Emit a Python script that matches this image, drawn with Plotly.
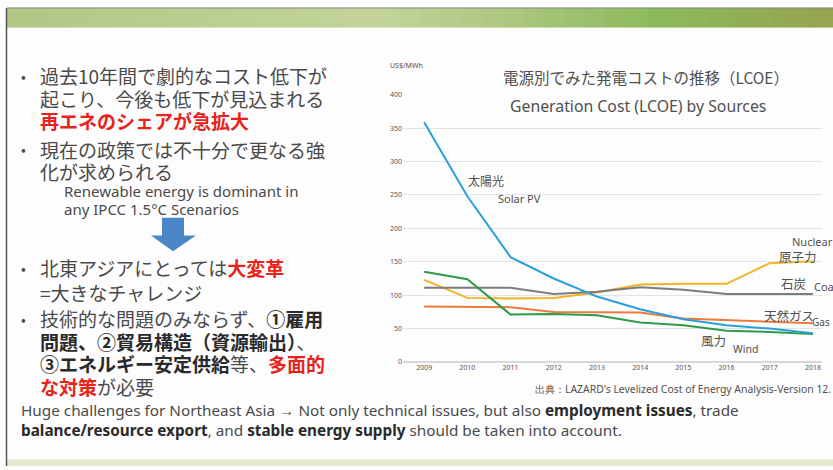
import plotly.graph_objects as go

# LCOE data (US$/MWh)
years = [2009, 2010, 2011, 2012, 2013, 2014, 2015, 2016, 2017, 2018]
solar_pv = [359, 248, 157, 125, 98, 79, 64, 55, 50, 43]
wind = [135, 124, 71, 72, 70, 59, 55, 47, 45, 42]
gas = [83, 83, 82, 75, 74, 74, 65, 63, 60, 58]
coal = [111, 111, 111, 102, 105, 112, 108, 102, 102, 102]
nuclear = [123, 96, 95, 96, 104, 116, 117, 117, 148, 151]
y_ticks = [0, 50, 100, 150, 200, 250, 300, 350, 400]

W, H = 833, 470
JP = "Noto Sans CJK JP"
EN = "Noto Sans"
TXT = "#4a4a4a"
RED = "#e8231c"


def px(x):
    return x / W


def py(y):
    return 1 - y / H


fig = go.Figure()

series = [
    ("Nuclear", nuclear, "#f2b324"),
    ("Coal", coal, "#7c7c7c"),
    ("Gas", gas, "#ec7a3c"),
    ("Wind", wind, "#2f9a4a"),
    ("Solar PV", solar_pv, "#2a9fdc"),
]
for name, vals, col in series:
    fig.add_trace(go.Scatter(x=years, y=vals, mode="lines", name=name,
                             line=dict(color=col, width=2), showlegend=False))

fig.update_xaxes(domain=[px(403), px(822)], range=[2008.51, 2018.21],
                 tickvals=years, showgrid=False, zeroline=False,
                 tickfont=dict(size=7, color="#555", family=EN), ticks="")
fig.update_yaxes(domain=[py(364), py(91.5)], range=[0, 400], tickvals=y_ticks,
                 showgrid=True, gridcolor="#e3e3e3", gridwidth=1,
                 zeroline=True, zerolinecolor="#d8d8d8",
                 tickfont=dict(size=7, color="#555", family=EN), ticks="")

shapes = []
# top green band (gradient approximated with strips)
stops = [(0, (178, 200, 135)), (0.45, (196, 212, 155)), (0.6, (175, 200, 130)),
         (0.8, (140, 186, 90)), (1.0, (150, 165, 80))]


def band_color(t):
    for (t0, c0), (t1, c1) in zip(stops[:-1], stops[1:]):
        if t0 <= t <= t1:
            f = (t - t0) / (t1 - t0) if t1 > t0 else 0
            return "rgb(%d,%d,%d)" % tuple(int(a + (b - a) * f) for a, b in zip(c0, c1))
    return "rgb(150,165,80)"


n = 40
for i in range(n):
    x0 = 7 + (W - 7) * i / n
    x1 = 7 + (W - 7) * (i + 1) / n + 1
    shapes.append(dict(type="rect", xref="paper", yref="paper",
                       x0=px(x0), x1=px(min(x1, W)), y0=py(23), y1=py(3),
                       fillcolor=band_color(i / (n - 1)), line=dict(width=0), layer="below"))
# bottom pale band
shapes.append(dict(type="rect", xref="paper", yref="paper", x0=px(7), x1=1,
                   y0=0, y1=py(463), fillcolor="#e6ead2", line=dict(width=0), layer="below"))
# top thin line and left border
shapes.append(dict(type="line", xref="paper", yref="paper", x0=px(7), x1=1,
                   y0=py(3), y1=py(3), line=dict(color="#8a8a8a", width=1)))
shapes.append(dict(type="line", xref="paper", yref="paper", x0=px(6.5), x1=px(6.5),
                   y0=0, y1=py(3), line=dict(color="#555", width=1.5)))
# blue down arrow
shapes.append(dict(type="path", xref="paper", yref="paper",
                   path="M {a},{b} L {c},{b} L {c},{d} L {e},{d} L {f},{g} L {h},{d} L {i},{d} Z".format(
                       a=px(162), b=py(217), c=px(184), d=py(235), e=px(196),
                       f=px(173), g=py(251), h=px(151), i=px(162)),
                   fillcolor="#4a86c8", line=dict(width=0)))

ann = []


def txt(x, y, s, size, family=JP, color=TXT, xanchor="left"):
    ann.append(dict(x=px(x), y=py(y), xref="paper", yref="paper", text=s,
                    showarrow=False, xanchor=xanchor, yanchor="middle",
                    font=dict(size=size, family=family, color=color)))


def red(s):
    return "<span style='color:%s'><b>%s</b></span>" % (RED, s)


def dark(s):
    return "<span style='color:#2a2a2a'><b>%s</b></span>" % s


fs = 19
# left bullets
for y in [72, 147, 268, 320]:
    txt(19, y, "•", 14)
txt(38, 72, "過去10年間で劇的なコスト低下が", fs)
txt(38, 95, "起こり、今後も低下が見込まれる", fs)
txt(38, 118, red("再エネのシェアが急拡大"), fs)
txt(38, 147, "現在の政策では不十分で更なる強", fs)
txt(38, 170, "化が求められる", fs)
txt(62, 190, "Renewable energy is dominant in", 15, family=EN)
txt(62, 208, "any IPCC 1.5°C Scenarios", 15, family=EN)
txt(38, 268, "北東アジアにとっては" + red("大変革"), fs)
txt(38, 293, "=大きなチャレンジ", fs)
txt(38, 320, "技術的な問題のみならず、" + dark("①雇用"), fs)
txt(38, 343, dark("問題、②貿易構造（資源輸出）") + "、", fs)
txt(38, 366, dark("③エネルギー安定供給") + "等、" + red("多面的"), fs)
txt(38, 389, red("な対策") + "が必要", fs)
txt(19, 413, "Huge challenges for Northeast Asia → Not only technical issues, but also "
             + dark("employment issues") + ", trade", 15.3, family=EN)
txt(19, 433, dark("balance/resource export") + ", and " + dark("stable energy supply")
    + " should be taken into account.", 15.3, family=EN)

# chart texts
CT = "#505050"
txt(388, 62, "US$/MWh", 7, family=EN, color=CT)
txt(646, 73, "電源別でみた発電コストの推移（LCOE）", 15.5, color=CT, xanchor="center")
txt(638, 103, "Generation Cost (LCOE) by Sources", 15.8, family=EN, color=CT, xanchor="center")
txt(466, 179, "太陽光", 12, color=CT)
txt(496, 197, "Solar PV", 11, family=EN, color=CT)
txt(790, 241, "Nuclear", 11, family=EN, color=CT)
txt(777, 256, "原子力", 12.5, color=CT)
txt(779, 284, "石炭", 12.5, color=CT)
txt(812, 287, "Coal", 11, family=EN, color=CT)
txt(762, 317, "天然ガス", 12.5, color=CT)
txt(810, 323, "Gas", 10, family=EN, color=CT)
txt(699, 342, "風力", 12.5, color=CT)
txt(731, 351, "Wind", 10.5, family=EN, color=CT)
txt(533, 391, "出典：LAZARD's Levelized Cost of Energy Analysis-Version 12.", 10.4,
    family=EN, color=CT)

fig.update_layout(width=W, height=H, margin=dict(l=0, r=0, t=0, b=0),
                  paper_bgcolor="#fdfdfd", plot_bgcolor="#fdfdfd",
                  shapes=shapes, annotations=ann)

fig.write_html("out.html", config={"displayModeBar": False},
               post_script="document.body.style.margin='0';")
